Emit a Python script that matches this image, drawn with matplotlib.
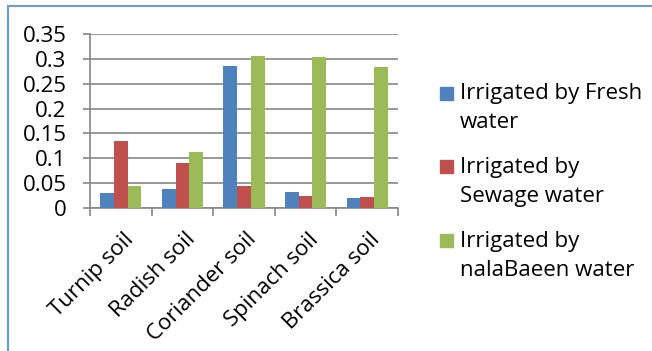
import numpy as np
import matplotlib.pyplot as plt
from matplotlib.patches import Rectangle
from matplotlib.lines import Line2D
from matplotlib.transforms import ScaledTranslation

plt.rcParams['font.family'] = ['Open Sans', 'DejaVu Sans']

soils = ['Turnip soil', 'Radish soil', 'Coriander soil', 'Spinach soil', 'Brassica soil']
fresh = [0.030, 0.038, 0.285, 0.033, 0.020]
sewage = [0.135, 0.091, 0.045, 0.024, 0.022]
nala = [0.045, 0.112, 0.306, 0.304, 0.283]
series_names = [['Irrigated by Fresh', 'water'], ['Irrigated by', 'Sewage water'],
                ['Irrigated by', 'nalaBaeen water']]
colors = ['#4F81BD', '#C0504D', '#9BBB59']
yticks = [0, 0.05, 0.1, 0.15, 0.2, 0.25, 0.3, 0.35]

W, H = 652, 351
fig = plt.figure(figsize=(W/100, H/100), dpi=100)
ax = fig.add_axes([90/W, 1-208/H, 308/W, 174/H])

x = np.arange(len(soils))
w = 0.222
for i, vals in enumerate([fresh, sewage, nala]):
    ax.bar(x + (i-1)*w, vals, w, color=colors[i], zorder=3)

ax.set_xlim(-0.5, len(soils)-0.5)
ax.set_ylim(0, 0.35)
ax.set_yticks(yticks)
ax.set_yticklabels(['%g' % v for v in yticks])
ax.yaxis.grid(True, color='#868686', linewidth=1.2, zorder=0)
ax.tick_params(axis='y', length=5, width=1.2, color='#868686', pad=12, labelsize=16)

# category boundaries get the tick marks, names are placed separately
ax.set_xticks(np.arange(len(soils)+1) - 0.5)
ax.set_xticklabels([])
ax.tick_params(axis='x', length=6, width=1.2, color='#868686')
off = ScaledTranslation(0.02, -0.21, fig.dpi_scale_trans)
for i, s in enumerate(soils):
    ax.text(x[i], 0, s, transform=ax.get_xaxis_transform() + off, rotation=45,
            rotation_mode='anchor', ha='right', va='top', fontsize=16)

for s in ['top', 'right']:
    ax.spines[s].set_visible(False)
for s in ['left', 'bottom']:
    ax.spines[s].set_color('#868686')
    ax.spines[s].set_linewidth(1.2)

# legend by hand, swatch sits on first line like Excel does
base = [99.5, 173, 246.5]
for lines, c, b in zip(series_names, colors, base):
    fig.patches.append(Rectangle((440/W, 1-b/H), 13/W, 13/H,
                                 transform=fig.transFigure, color=c))
    for k, t in enumerate(lines):
        fig.text(460/W, 1-(b+k*29)/H, t, fontsize=16, va='baseline', ha='left')

# frame lines
fig.add_artist(Line2D([8/W, 1], [1-6/H, 1-6/H], color='#6E9BD6', linewidth=1.5))
fig.add_artist(Line2D([8/W, 8/W], [0, 1-6/H], color='#6E9BD6', linewidth=1.5))

fig.savefig('out.png', dpi=100)
